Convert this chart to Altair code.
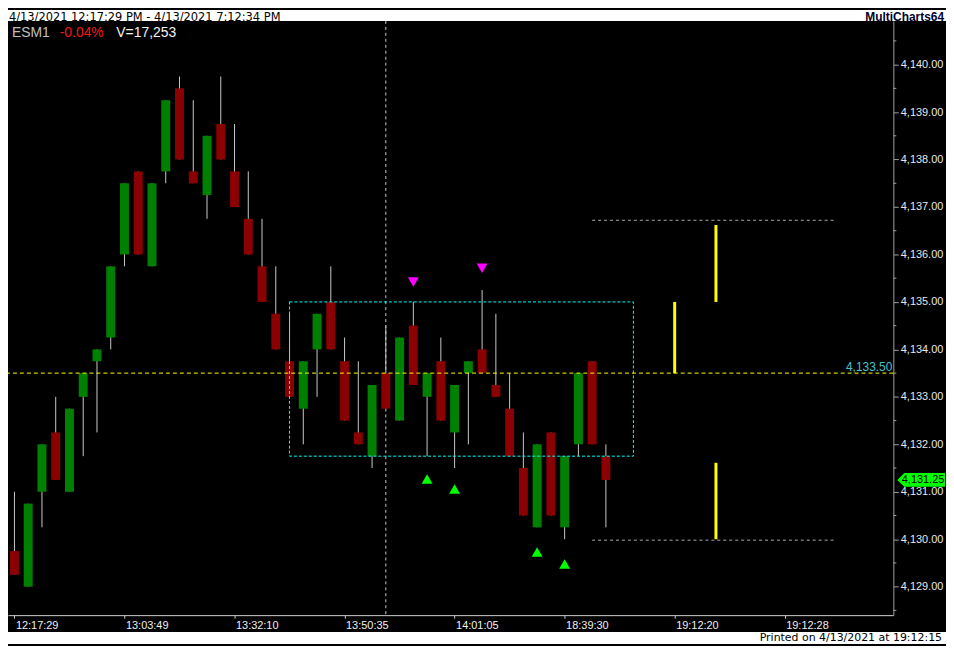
import altair as alt
import pandas as pd

# ---------------- data ----------------
bar_index = list(range(44))
opens = [4129.75, 4129.00, 4131.00, 4132.25, 4131.00, 4133.00, 4133.75, 4134.25, 4136.00, 4137.75,
         4135.75, 4137.75, 4139.50, 4137.75, 4137.25, 4138.75, 4137.75, 4136.75, 4135.75, 4134.75,
         4133.75, 4132.75, 4134.00, 4135.00, 4133.75, 4132.25, 4131.75, 4133.50, 4132.50, 4134.50,
         4133.00, 4133.75, 4132.25, 4133.50, 4134.00, 4133.25, 4132.75, 4131.50, 4130.25, 4132.25,
         4130.25, 4132.00, 4133.75, 4131.75]
highs = [4131.00, 4130.75, 4132.00, 4133.00, 4132.75, 4133.50, 4134.00, 4135.75, 4137.50, 4137.75,
         4137.50, 4139.25, 4139.75, 4139.25, 4138.50, 4139.75, 4138.75, 4137.75, 4136.75, 4135.75,
         4134.75, 4133.75, 4134.75, 4135.75, 4134.25, 4133.75, 4133.25, 4134.50, 4134.25, 4135.00,
         4133.50, 4134.25, 4133.25, 4133.75, 4135.25, 4134.75, 4133.50, 4132.25, 4132.00, 4132.25,
         4131.75, 4133.50, 4133.75, 4132.00]
lows = [4129.25, 4129.00, 4130.25, 4131.25, 4131.00, 4131.75, 4132.25, 4134.00, 4135.75, 4136.00,
        4135.75, 4137.50, 4138.00, 4137.50, 4136.75, 4138.00, 4137.00, 4136.00, 4135.00, 4134.00,
        4133.00, 4132.00, 4133.00, 4134.00, 4132.50, 4132.00, 4131.50, 4132.75, 4132.50, 4133.25,
        4131.75, 4132.50, 4131.50, 4132.00, 4133.50, 4133.00, 4131.75, 4130.50, 4130.25, 4130.50,
        4130.00, 4131.75, 4132.00, 4130.25]
closes = [4129.25, 4130.75, 4132.00, 4131.25, 4132.75, 4133.50, 4134.00, 4135.75, 4137.50, 4136.00,
          4137.50, 4139.25, 4138.00, 4137.50, 4138.50, 4138.00, 4137.00, 4136.00, 4135.00, 4134.00,
          4133.00, 4133.75, 4134.75, 4134.00, 4132.50, 4132.00, 4133.25, 4132.75, 4134.25, 4133.25,
          4133.50, 4132.50, 4133.25, 4133.75, 4133.50, 4133.00, 4131.75, 4130.50, 4132.00, 4130.50,
          4131.75, 4133.50, 4132.00, 4131.25]

x_tick_index = [0, 8, 16, 24, 32, 40, 48, 56]
x_tick_labels = ["12:17:29", "13:03:49", "13:32:10", "13:50:35",
                 "14:01:05", "18:39:30", "19:12:20", "19:12:28"]
price_major = [4129, 4130, 4131, 4132, 4133, 4134, 4135, 4136, 4137, 4138, 4139, 4140]
price_minor = [4128.5, 4129.5, 4130.5, 4131.5, 4132.5, 4133.5, 4134.5, 4135.5,
               4136.5, 4137.5, 4138.5, 4139.5, 4140.5]

crosshair_index = [27]
ref_level = [4133.50]
box_start = [20]
box_end = [45]
box_low = [4131.75]
box_high = [4135.00]
sig_down_index = [29, 34]
sig_down_price = [4135.42, 4135.71]
sig_up_index = [30, 32, 38, 40]
sig_up_price = [4131.27, 4131.06, 4129.73, 4129.48]
proj_index = [48, 51, 51]
proj_low = [4133.50, 4135.00, 4130.00]
proj_high = [4135.00, 4136.62, 4131.61]
band_start = [42, 42]
band_end = [59.7, 59.7]
band_price = [4136.72, 4129.98]

header_left = "4/13/2021 12:17:29 PM - 4/13/2021 7:12:34 PM"
header_right = "MultiCharts64"
symbol_text = "ESM1"
change_text = "-0.04%"
volume_text = "V=17,253"
footer_text = "Printed on 4/13/2021 at 19:12:15"

# ---------------- tables ----------------
candles = pd.DataFrame({"i": bar_index, "open": opens, "high": highs, "low": lows, "close": closes})
candles["dir"] = ["up" if c >= o else "down" for o, c in zip(opens, closes)]
one = pd.DataFrame({"a": [0]})

W, H = 891, 598
TOP, BOTTOM, RIGHT = 11, 29, 53
FONT = "Liberation Sans"
FONT2 = "DejaVu Sans"

xs = alt.Scale(domain=[-0.107, 63.536], nice=False, zero=False)
ys = alt.Scale(domain=[4128.40, 4140.92], nice=False, zero=False)

arr = "[" + ",".join("'%s'" % s for s in x_tick_labels) + "]"
idx = "[" + ",".join(str(v) for v in x_tick_index) + "]"
xaxis = alt.Axis(values=x_tick_index, labelExpr=f"{arr}[indexof({idx}, datum.value)]",
                 orient="bottom", title=None, grid=False, tickSize=3,
                 tickColor="#D0D0D0", domainColor="#D0D0D0", labelColor="#F0F0F0",
                 labelFont=FONT, labelFontSize=11, labelAlign="left", labelBaseline="top",
                 labelPadding=1, labelOffset=1, labelFlush=False, labelOverlap=False)
yaxis = alt.Axis(values=price_major, format=",.2f", orient="right", title=None, grid=False,
                 tickSize=5, tickColor="#A0A0A0", domainColor="#A0A0A0", labelColor="#E8E8E8",
                 labelFont=FONT, labelFontSize=11, labelPadding=2, labelOverlap=False)


def X(field):
    return alt.X(field, scale=xs, axis=xaxis)


def Y(field):
    return alt.Y(field, scale=ys, axis=yaxis)


# ---------------- layers ----------------
header_bg = alt.Chart(one).mark_rect(color="white").encode(
    x=alt.value(0), x2=alt.value(944), y=alt.value(-TOP), y2=alt.value(0))
footer_bg = alt.Chart(one).mark_rect(color="white").encode(
    x=alt.value(0), x2=alt.value(944), y=alt.value(H + 17), y2=alt.value(H + BOTTOM))

wicks = alt.Chart(candles).mark_rule(color="#C8C8C8", strokeWidth=1).encode(
    x=X("i:Q"), y=Y("low:Q"), y2="high:Q")

cross = alt.Chart(pd.DataFrame({"i": crosshair_index})).mark_rule(
    color="#C8C8C8", strokeDash=[3, 3]).encode(x=X("i:Q"))

bodies = alt.Chart(candles).mark_bar(size=9).encode(
    x=X("i:Q"), y=Y("open:Q"), y2="close:Q",
    color=alt.Color("dir:N", scale=alt.Scale(domain=["up", "down"], range=["#008000", "#8B0000"]),
                    legend=None))

minor_ticks = alt.Chart(pd.DataFrame({"p": price_minor})).mark_rule(color="#A0A0A0").encode(
    x=alt.value(W), x2=alt.value(W + 3), y=Y("p:Q"))

level_line = alt.Chart(pd.DataFrame({"level": ref_level})).mark_rule(
    color="#FFFF00", strokeDash=[4, 3]).encode(y=Y("level:Q"))

level_label = alt.Chart(pd.DataFrame({"level": ref_level})).mark_text(
    align="right", baseline="alphabetic", dy=-2, font=FONT, fontSize=12, color="#46C3CC").encode(
    x=alt.value(890), y=Y("level:Q"), text=alt.Text("level:Q", format=",.2f"))

box = alt.Chart(pd.DataFrame({"x1": box_start, "x2": box_end, "lo": box_low, "hi": box_high})).mark_rect(
    fillOpacity=0, stroke="#00FFFF", strokeWidth=1, strokeDash=[3, 2]).encode(
    x=X("x1:Q"), x2="x2:Q", y=Y("lo:Q"), y2="hi:Q")

bands = alt.Chart(pd.DataFrame({"x1": band_start, "x2": band_end, "p": band_price})).mark_rule(
    color="#A8A8A8", strokeDash=[3, 3]).encode(x=X("x1:Q"), x2="x2:Q", y=Y("p:Q"))

proj = alt.Chart(pd.DataFrame({"i": proj_index, "lo": proj_low, "hi": proj_high})).mark_rule(
    color="#FFFF00", strokeWidth=3).encode(x=X("i:Q"), y=Y("lo:Q"), y2="hi:Q")

downs = alt.Chart(pd.DataFrame({"i": sig_down_index, "p": sig_down_price})).mark_point(
    shape="triangle-down", filled=True, size=121, color="#FF00FF", opacity=1).encode(
    x=X("i:Q"), y=Y("p:Q"))

ups = alt.Chart(pd.DataFrame({"i": sig_up_index, "p": sig_up_price})).mark_point(
    shape="triangle-up", filled=True, size=121, color="#00FF00", opacity=1).encode(
    x=X("i:Q"), y=Y("p:Q"))

last_df = pd.DataFrame({"last": [closes[-1]]})
tag = alt.Chart(last_df).mark_point(
    shape="M-1,0L-0.71,-0.29L1,-0.29L1,0.29L-0.71,0.29Z", filled=True, size=2304,
    color="#00FF00", opacity=1, strokeWidth=0).encode(x=alt.value(919), y=Y("last:Q"))
tag_text = alt.Chart(last_df).mark_text(
    align="left", baseline="middle", font=FONT, fontSize=11, color="#000000").encode(
    x=alt.value(899.5), y=Y("last:Q"), text=alt.Text("last:Q", format=",.2f"))


def label(txt, x, y, color, size, align="left", weight="normal", font=FONT):
    return alt.Chart(one).mark_text(
        text=txt, align=align, baseline="alphabetic", font=font, fontSize=size,
        color=color, fontWeight=weight).encode(x=alt.value(x), y=alt.value(y))


texts = [
    label(symbol_text, 4, 16, "#C0C0C0", 14),
    label(change_text, 52, 16, "#F01818", 14),
    label(volume_text, 109, 16, "#F2F2F2", 14),
    label(header_left, 1, -0.3, "#000000", 11.5, font=FONT2),
    label(header_right, 942, -0.3, "#00002A", 12, align="right", weight="bold"),
    label(footer_text, 940, H + BOTTOM - 2.7, "#000000", 11, align="right", font=FONT2),
]

chart = alt.layer(
    header_bg, footer_bg, wicks, cross, bodies, minor_ticks, box, bands, level_line,
    proj, downs, ups, level_label, tag, tag_text, *texts
).properties(
    width=W, height=H,
    padding={"left": 0, "top": TOP, "right": RIGHT, "bottom": BOTTOM},
    autosize=alt.AutoSizeParams(type="none"),
).configure(background="#000000").configure_view(strokeWidth=0)

chart.save("out.html", embed_options={"renderer": "svg", "actions": False})
